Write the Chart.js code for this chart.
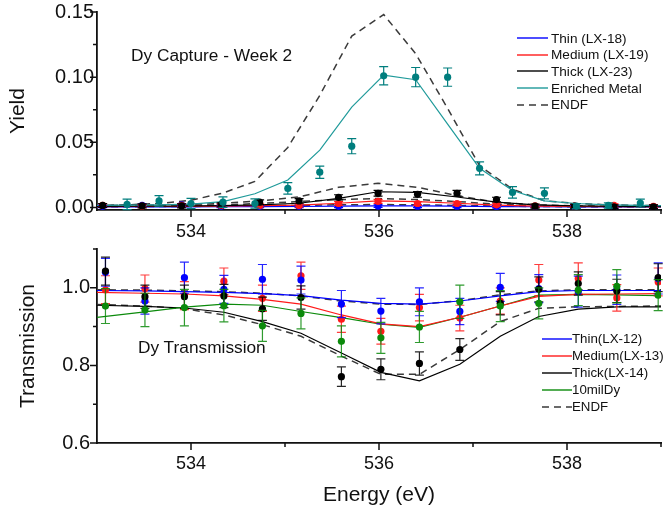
<!DOCTYPE html>
<html>
<head>
<meta charset="utf-8">
<title>Dy capture and transmission</title>
<script src="https://cdn.jsdelivr.net/npm/chart.js@4.4.1/dist/chart.umd.min.js"></script>
<style>
  html, body { margin: 0; padding: 0; background: #fff; }
  #wrap { position: relative; width: 665px; height: 513px; overflow: hidden; font-family: Arial, "Liberation Sans", sans-serif; color: #111; }
  #wrap canvas { position: absolute; left: 0; }
  #chart-capture { top: 0; }
  #chart-trans { top: 245px; }
  .note { position: absolute; font-size: 17.3px; line-height: 20px; white-space: nowrap; }
  .legend { position: absolute; white-space: nowrap; }
  .legend-row { display: flex; align-items: center; }
  .legend-row svg { display: block; }
</style>
</head>
<body>
<div id="wrap">
  <canvas id="chart-capture" width="665" height="245"></canvas>
  <canvas id="chart-trans" width="665" height="268"></canvas>
  <div class="note" style="left:131px; top:45px;">Dy Capture - Week 2</div>
  <div class="note" style="left:138px; top:337px;">Dy Transmission</div>
  <div class="legend" id="legend-capture" style="left:517px; top:30px; font-size:13.6px;"></div>
  <div class="legend" id="legend-trans" style="left:542px; top:330px; font-size:13.3px;"></div>
</div>
<script>
// ---------- axes ----------
const xTicks = [534, 535, 536, 537, 538, 539];
const xMajor = [534, 536, 538];
const capYTicks = [0, 0.025, 0.05, 0.075, 0.10, 0.125, 0.15];
const capYMajor = [0, 0.05, 0.10, 0.15];
const trYTicks = [0.6, 0.7, 0.8, 0.9, 1.0, 1.1];
const trYMajor = [0.6, 0.8, 1.0];

// ---------- capture (top panel) ----------
const capEnergy = [533.06, 533.48, 533.90, 534.32, 534.73, 535.15, 535.57, 535.99, 536.41, 536.83, 537.25, 537.66, 538.08, 538.50, 538.92];
const capThin      = [0.0008, 0.0015, 0.0020, 0.0008, 0.0008, 0.0008, 0.0008, 0.0010, 0.0009, 0.0009, 0.0006, 0.0008, 0.0006, 0.0005, 0.0005];
const capThinErr   = [0.0010, 0.0010, 0.0010, 0.0010, 0.0010, 0.0010, 0.0010, 0.0010, 0.0010, 0.0010, 0.0010, 0.0010, 0.0010, 0.0010, 0.0010];
const capMedium    = [0.0015, 0.0010, 0.0015, 0.0015, 0.0015, 0.0015, 0.0030, 0.0046, 0.0030, 0.0030, 0.0020, 0.0012, 0.0010, 0.0015, 0.0008];
const capMediumErr = [0.0012, 0.0012, 0.0012, 0.0012, 0.0012, 0.0012, 0.0015, 0.0015, 0.0015, 0.0015, 0.0012, 0.0012, 0.0012, 0.0012, 0.0012];
const capThick     = [0.0015, 0.0012, 0.0012, 0.0020, 0.0040, 0.0050, 0.0077, 0.0108, 0.0100, 0.0108, 0.0060, 0.0010, 0.0010, 0.0005, 0.0005];
const capThickErr  = [0.0015, 0.0015, 0.0015, 0.0015, 0.0018, 0.0018, 0.0020, 0.0022, 0.0022, 0.0022, 0.0018, 0.0015, 0.0015, 0.0015, 0.0015];

const capLineEnergy = [532.64, 533.06, 533.48, 533.90, 534.32, 534.73, 535.15, 535.57, 535.99, 536.41, 536.83, 537.25, 537.66, 538.08, 538.50, 538.92, 539.34];
const capThinFit    = [0.0003, 0.0003, 0.0004, 0.0004, 0.0005, 0.0006, 0.0007, 0.0010, 0.0012, 0.0011, 0.0009, 0.0006, 0.0005, 0.0004, 0.0003, 0.0003, 0.0003];
const capThinEndf   = [0.0004, 0.0005, 0.0006, 0.0007, 0.0009, 0.0012, 0.0015, 0.0020, 0.0022, 0.0020, 0.0015, 0.0010, 0.0007, 0.0005, 0.0004, 0.0004, 0.0004];
const capMediumFit  = [0.0005, 0.0006, 0.0007, 0.0008, 0.0010, 0.0013, 0.0018, 0.0032, 0.0050, 0.0044, 0.0032, 0.0018, 0.0010, 0.0007, 0.0006, 0.0005, 0.0005];
const capMediumEndf = [0.0007, 0.0008, 0.0010, 0.0012, 0.0018, 0.0030, 0.0045, 0.0060, 0.0068, 0.0060, 0.0045, 0.0025, 0.0013, 0.0008, 0.0006, 0.0005, 0.0005];
const capThickFit   = [0.0008, 0.0008, 0.0009, 0.0010, 0.0013, 0.0020, 0.0032, 0.0069, 0.0120, 0.0115, 0.0080, 0.0040, 0.0020, 0.0012, 0.0008, 0.0006, 0.0006];
const capThickEndf  = [0.0014, 0.0015, 0.0017, 0.0020, 0.0030, 0.0050, 0.0080, 0.0154, 0.0185, 0.0154, 0.0090, 0.0040, 0.0020, 0.0012, 0.0008, 0.0006, 0.0006];

const enrEnergy = [533.32, 533.66, 534.00, 534.34, 534.68, 535.03, 535.37, 535.71, 536.05, 536.39, 536.73, 537.07, 537.42, 537.76, 538.10, 538.44, 538.78];
const enrYield  = [0.0023, 0.0050, 0.0030, 0.0040, 0.0030, 0.0146, 0.0270, 0.0470, 0.1010, 0.1000, 0.1000, 0.0300, 0.0115, 0.0108, 0.0010, 0.0015, 0.0033];
const enrErr    = [0.0040, 0.0040, 0.0040, 0.0040, 0.0035, 0.0044, 0.0047, 0.0058, 0.0070, 0.0074, 0.0070, 0.0050, 0.0044, 0.0042, 0.0020, 0.0020, 0.0030];

const enrLineEnergy = [532.98, 533.32, 533.66, 534.00, 534.34, 534.68, 535.03, 535.37, 535.71, 536.05, 536.39, 536.73, 537.07, 537.42, 537.76, 538.10, 538.44, 538.78, 539.12];
const enrFit  = [0.0015, 0.0018, 0.0020, 0.0025, 0.0045, 0.0105, 0.0210, 0.0440, 0.0770, 0.1015, 0.0980, 0.0640, 0.0300, 0.0130, 0.0050, 0.0030, 0.0020, 0.0015, 0.0012];
const enrEndf = [0.0015, 0.0020, 0.0030, 0.0055, 0.0110, 0.0200, 0.0460, 0.0860, 0.1315, 0.1480, 0.1180, 0.0760, 0.0320, 0.0140, 0.0050, 0.0030, 0.0020, 0.0015, 0.0012];

// ---------- transmission (bottom panel) ----------
const trEnergy = [533.09, 533.51, 533.93, 534.35, 534.76, 535.17, 535.60, 536.02, 536.43, 536.86, 537.29, 537.70, 538.12, 538.53, 538.97];
const trThin      = [1.040, 0.966, 1.026, 0.996, 1.022, 1.020, 0.958, 0.940, 0.964, 0.939, 1.001, 0.998, 0.990, 0.995, 1.024];
const trThinErr   = [0.036, 0.034, 0.040, 0.036, 0.038, 0.036, 0.035, 0.033, 0.036, 0.034, 0.036, 0.036, 0.040, 0.038, 0.040];
const trMedium    = [0.995, 0.998, 0.980, 1.017, 0.973, 1.031, 0.919, 0.888, 0.949, 0.922, 0.966, 1.020, 1.024, 0.974, 1.015];
const trMediumErr = [0.036, 0.035, 0.036, 0.034, 0.034, 0.035, 0.034, 0.033, 0.034, 0.033, 0.034, 0.040, 0.040, 0.034, 0.036];
const trThick     = [1.043, 0.977, 0.977, 0.979, 0.946, 0.975, 0.771, 0.790, 0.805, 0.841, 0.960, 0.996, 1.011, 0.992, 1.026];
const trThickErr  = [0.036, 0.030, 0.030, 0.030, 0.030, 0.030, 0.025, 0.027, 0.030, 0.028, 0.030, 0.032, 0.030, 0.030, 0.036];
const trTenMil    = [0.953, 0.943, 0.949, 0.954, 0.902, 0.934, 0.862, 0.871, 0.899, 0.964, 0.953, 0.960, 0.994, 1.004, 0.981];
const trTenMilErr = [0.045, 0.043, 0.047, 0.042, 0.040, 0.040, 0.040, 0.040, 0.040, 0.043, 0.040, 0.040, 0.040, 0.043, 0.040];

const trLineEnergy = [533.00, 533.51, 533.93, 534.35, 534.76, 535.17, 535.60, 536.02, 536.43, 536.86, 537.29, 537.70, 538.12, 538.53, 538.97, 539.20];
const trThinFit   = [0.993, 0.992, 0.990, 0.988, 0.985, 0.980, 0.968, 0.960, 0.958, 0.966, 0.979, 0.990, 0.993, 0.993, 0.993, 0.993];
const trThinEndf  = [0.995, 0.994, 0.992, 0.990, 0.986, 0.979, 0.966, 0.958, 0.957, 0.967, 0.982, 0.992, 0.995, 0.995, 0.995, 0.995];
const trMediumFit = [0.988, 0.986, 0.984, 0.979, 0.970, 0.958, 0.930, 0.907, 0.900, 0.924, 0.953, 0.978, 0.983, 0.984, 0.985, 0.985];
const trTenMilFit = [0.924, 0.938, 0.950, 0.958, 0.955, 0.939, 0.923, 0.906, 0.898, 0.924, 0.953, 0.981, 0.983, 0.982, 0.980, 0.980];
const trThickFit  = [0.955, 0.952, 0.948, 0.937, 0.913, 0.883, 0.832, 0.782, 0.760, 0.803, 0.875, 0.926, 0.945, 0.951, 0.951, 0.951];
const trThickEndf = [0.957, 0.953, 0.946, 0.930, 0.905, 0.875, 0.824, 0.777, 0.777, 0.841, 0.913, 0.947, 0.951, 0.952, 0.953, 0.953];

// legend labels
const capLabels = ['Thin (LX-18)', 'Medium (LX-19)', 'Thick (LX-23)', 'Enriched Metal', 'ENDF'];
const trLabels = ['Thin(LX-12)', 'Medium(LX-13)', 'Thick(LX-14)', '10milDy', 'ENDF'];

// colours
const BLUE = '#0000ff', RED = '#ff1a1a', BLACK = '#000000', GREEN = '#0b8a0b';
const TEAL = '#007e7e', TEAL_LINE = '#1f9a9a', ENDF = '#3a3a3a';
const FONT = 'Arial, "Liberation Sans", sans-serif';

Chart.defaults.font.family = FONT;
Chart.defaults.color = '#111';

const pts = (xs, ys) => xs.map((x, i) => ({ x: x, y: ys[i] }));
const near = (arr, v) => arr.some(a => Math.abs(a - v) < 1e-9);

// vertical error bars, drawn under each dataset's markers
const errorBarPlugin = {
    id: 'errorBars',
    beforeDatasetDraw: function(chart, args) {
        const ds = chart.data.datasets[args.index];
        if (!ds.errors) return;
        const ctx = chart.ctx;
        const yScale = chart.scales.y;
        const cap = ds.capWidth || 4.5;
        ctx.save();
        ctx.strokeStyle = ds.errorColor || ds.borderColor;
        ctx.lineWidth = 1.2;
        args.meta.data.forEach((el, i) => {
            const v = ds.data[i].y, e = ds.errors[i];
            const top = yScale.getPixelForValue(v + e);
            const bot = yScale.getPixelForValue(v - e);
            ctx.beginPath();
            ctx.moveTo(el.x, top); ctx.lineTo(el.x, bot);
            ctx.moveTo(el.x - cap, top); ctx.lineTo(el.x + cap, top);
            ctx.moveTo(el.x - cap, bot); ctx.lineTo(el.x + cap, bot);
            ctx.stroke();
        });
        ctx.restore();
    }
};

// outward tick marks, long for labelled ticks and short for the others
const tickMarkPlugin = {
    id: 'tickMarks',
    afterDraw: function(chart, args, opts) {
        const ctx = chart.ctx, area = chart.chartArea;
        const xs = chart.scales.x, ys = chart.scales.y;
        ctx.save();
        ctx.strokeStyle = '#111';
        ctx.lineWidth = 1.5;
        ctx.beginPath();
        xs.ticks.forEach(t => {
            const px = xs.getPixelForValue(t.value);
            const len = near(opts.xMajor, t.value) ? 7 : 4;
            ctx.moveTo(px, area.bottom); ctx.lineTo(px, area.bottom + len);
        });
        ys.ticks.forEach(t => {
            const py = ys.getPixelForValue(t.value);
            const len = near(opts.yMajor, t.value) ? 7 : 4;
            ctx.moveTo(area.left, py); ctx.lineTo(area.left - len, py);
        });
        ctx.stroke();
        ctx.restore();
    }
};

function pointSet(label, xs, ys, errs, color, order, errColor) {
    return {
        label: label, data: pts(xs, ys), errors: errs, showLine: false,
        borderColor: color, backgroundColor: color, errorColor: errColor || color,
        pointRadius: 3.6, pointBorderWidth: 0, order: order
    };
}

function lineSet(label, xs, ys, color, dashed, order) {
    return {
        label: label, data: pts(xs, ys), showLine: true, pointRadius: 0,
        borderColor: color, borderWidth: dashed ? 1.5 : 1.2,
        borderDash: dashed ? [7, 5] : [], tension: 0, order: order
    };
}

function baseOptions(cfg) {
    return {
        responsive: false,
        animation: false,
        events: [],
        layout: { padding: cfg.padding },
        plugins: { legend: { display: false }, tooltip: { enabled: false }, tickMarks: { xMajor: xMajor, yMajor: cfg.yMajor } },
        scales: {
            x: {
                type: 'linear', min: 533, max: 539,
                grid: { display: false, drawTicks: false },
                border: { display: true, color: '#111', width: 1.8 },
                afterBuildTicks: s => { s.ticks = xTicks.map(v => ({ value: v })); },
                afterFit: s => { s.height = cfg.xHeight; s.paddingLeft = 0; s.paddingRight = 0; },
                ticks: {
                    autoSkip: false, maxRotation: 0, padding: cfg.xPad,
                    font: { size: 18 },
                    callback: v => near(xMajor, v) ? String(v) : ''
                },
                title: cfg.xTitle
            },
            y: {
                type: 'linear', min: cfg.yMin, max: cfg.yMax,
                grid: { display: false, drawTicks: false },
                border: { display: true, color: '#111', width: 1.8 },
                afterBuildTicks: s => { s.ticks = cfg.yTicks.map(v => ({ value: v })); },
                afterFit: s => { s.width = 97; s.paddingTop = 0; s.paddingBottom = 0; },
                ticks: {
                    autoSkip: false, padding: cfg.yPad,
                    font: { size: 20 },
                    callback: v => near(cfg.yMajor, v) ? v.toFixed(cfg.digits) : ''
                },
                title: { display: true, text: cfg.yTitle, font: { size: 21 }, color: '#111', padding: { top: cfg.yTitlePad, bottom: 0 } }
            }
        }
    };
}

function buildLegend(el, labels, styles, lineWidth, gap) {
    labels.forEach((label, i) => {
        const st = styles[i];
        const row = document.createElement('div');
        row.className = 'legend-row';
        row.style.height = st.rowH + 'px';
        row.innerHTML =
            '<svg width="' + lineWidth + '" height="6"><line x1="0" y1="3" x2="' + lineWidth + '" y2="3" stroke="' + st.color +
            '" stroke-width="1.4"' + (st.dash ? ' stroke-dasharray="7,5"' : '') + '/></svg>' +
            '<span style="margin-left:' + gap + 'px">' + label + '</span>';
        el.appendChild(row);
    });
}

window.dyCharts = {
    init: function() {
        this.renderCapture();
        this.renderTransmission();
        this.renderLegends();
    },

    renderCapture: function() {
        const datasets = [
            pointSet(capLabels[3], enrEnergy, enrYield, enrErr, TEAL, 1),
            pointSet(capLabels[2], capEnergy, capThick, capThickErr, BLACK, 2),
            pointSet(capLabels[1], capEnergy, capMedium, capMediumErr, RED, 3),
            pointSet(capLabels[0], capEnergy, capThin, capThinErr, BLUE, 4),
            lineSet(capLabels[3], enrLineEnergy, enrFit, TEAL_LINE, false, 10),
            lineSet(capLabels[2], capLineEnergy, capThickFit, BLACK, false, 11),
            lineSet(capLabels[1], capLineEnergy, capMediumFit, RED, false, 12),
            lineSet(capLabels[0], capLineEnergy, capThinFit, BLUE, false, 13),
            lineSet('ENDF', enrLineEnergy, enrEndf, ENDF, true, 14),
            lineSet('ENDF', capLineEnergy, capThickEndf, ENDF, true, 15),
            lineSet('ENDF', capLineEnergy, capMediumEndf, ENDF, true, 16),
            lineSet('ENDF', capLineEnergy, capThinEndf, ENDF, true, 17)
        ];
        new Chart(document.getElementById('chart-capture'), {
            type: 'scatter',
            data: { datasets: datasets },
            options: baseOptions({
                padding: { top: 12, right: 4, left: 0, bottom: 0 },
                xHeight: 35, xPad: 11.5, yMin: -0.002, yMax: 0.15,
                yTicks: capYTicks, yMajor: capYMajor, digits: 2, yPad: 3,
                yTitle: 'Yield', yTitlePad: 5.5,
                xTitle: { display: false }
            }),
            plugins: [errorBarPlugin, tickMarkPlugin]
        });
    },

    renderTransmission: function() {
        const datasets = [
            pointSet(trLabels[3], trEnergy, trTenMil, trTenMilErr, GREEN, 1, 'rgba(11,138,11,0.85)'),
            pointSet(trLabels[2], trEnergy, trThick, trThickErr, BLACK, 2, 'rgba(0,0,0,0.85)'),
            pointSet(trLabels[0], trEnergy, trThin, trThinErr, BLUE, 3, 'rgba(0,0,255,0.85)'),
            pointSet(trLabels[1], trEnergy, trMedium, trMediumErr, RED, 4, 'rgba(255,26,26,0.85)'),
            lineSet(trLabels[0], trLineEnergy, trThinFit, BLUE, false, 10),
            lineSet(trLabels[1], trLineEnergy, trMediumFit, RED, false, 11),
            lineSet(trLabels[3], trLineEnergy, trTenMilFit, GREEN, false, 12),
            lineSet(trLabels[2], trLineEnergy, trThickFit, BLACK, false, 13),
            lineSet('ENDF', trLineEnergy, trThinEndf, ENDF, true, 14),
            lineSet('ENDF', trLineEnergy, trThickEndf, ENDF, true, 15)
        ];
        new Chart(document.getElementById('chart-trans'), {
            type: 'scatter',
            data: { datasets: datasets },
            options: baseOptions({
                padding: { top: 3, right: 4, left: 0, bottom: 0 },
                xHeight: 70, xPad: 10.5, yMin: 0.6, yMax: 1.1,
                yTicks: trYTicks, yMajor: trYMajor, digits: 1, yPad: 7,
                yTitle: 'Transmission', yTitlePad: 15.5,
                xTitle: { display: true, text: 'Energy (eV)', font: { size: 21 }, color: '#111', padding: { top: 0, bottom: 5 } }
            }),
            plugins: [errorBarPlugin, tickMarkPlugin]
        });
    },

    renderLegends: function() {
        const capStyles = [
            { color: BLUE, rowH: 16.6 }, { color: RED, rowH: 16.6 }, { color: BLACK, rowH: 16.6 },
            { color: TEAL_LINE, rowH: 16.6 }, { color: ENDF, dash: true, rowH: 16.6 }
        ];
        const trStyles = [
            { color: BLUE, rowH: 17 }, { color: RED, rowH: 17 }, { color: BLACK, rowH: 17 },
            { color: GREEN, rowH: 17 }, { color: ENDF, dash: true, rowH: 17 }
        ];
        buildLegend(document.getElementById('legend-capture'), capLabels, capStyles, 31, 3);
        buildLegend(document.getElementById('legend-trans'), trLabels, trStyles, 30, 0);
    }
};

window.dyCharts.init();
</script>
</body>
</html>
